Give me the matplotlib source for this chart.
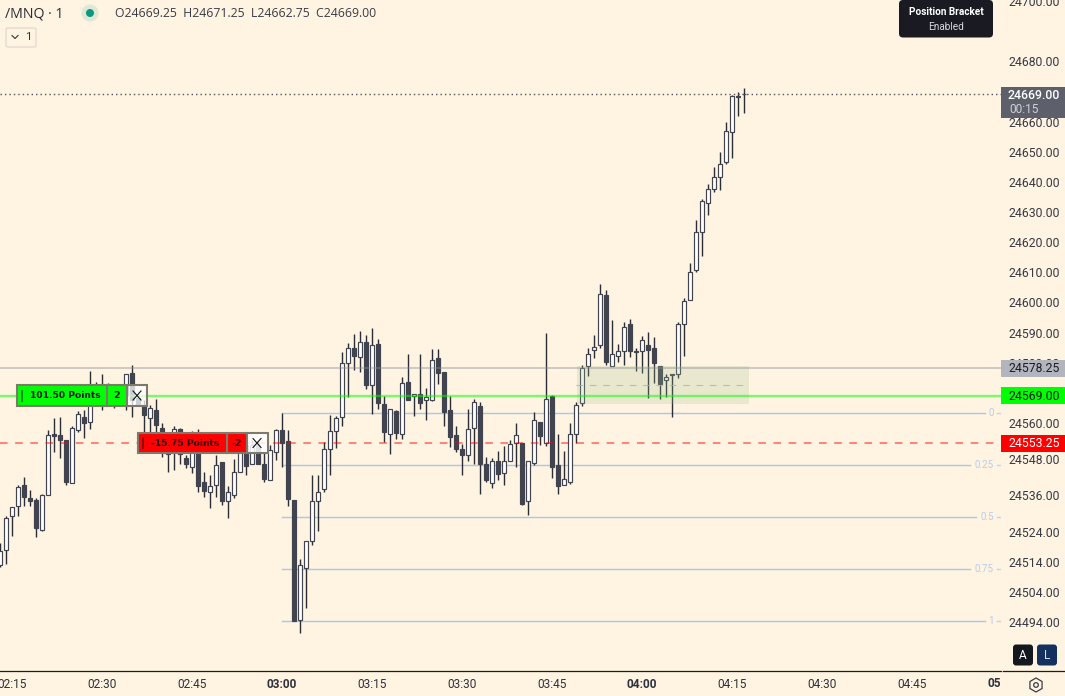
import matplotlib
matplotlib.use('Agg')
import matplotlib.pyplot as plt
from matplotlib.patches import Rectangle, FancyBboxPatch, Circle, RegularPolygon
import numpy as np

# one minute bars of /MNQ, first bar is 02:13
opens = [24513, 24517.75, 24529.25, 24532.5, 24539.5, 24535.25, 24534.5, 24524.5, 24536, 24556.25,
         24556, 24554.5, 24540, 24557.75, 24562, 24560.25, 24572.5, 24569.25, 24569.25, 24570.25,
         24569.25, 24569.25, 24576.5, 24568.25, 24566, 24561.75, 24564.25, 24558.25, 24549.75, 24552.75,
         24558, 24548.25, 24545.5, 24554.25, 24540.5, 24537.25, 24539.5, 24547, 24534.25, 24536.25,
         24543.75, 24552.75, 24546.5, 24552.75, 24546.5, 24541.25, 24550.5, 24557.75, 24554, 24534.5,
         24494.5, 24511.75, 24521, 24534.25, 24538, 24551.5, 24557.5, 24562, 24580, 24584.75,
         24582, 24587, 24572.5, 24586.25, 24566.25, 24556.5, 24564, 24556.25, 24573.75, 24569,
         24569.75, 24567.5, 24567.75, 24581.5, 24577, 24564.25, 24556, 24551.25, 24549.5, 24558.5,
         24565.5, 24546.5, 24540.25, 24547.5, 24543.5, 24547.5, 24553.5, 24553.25, 24534, 24546.75,
         24560.25, 24553.5, 24569, 24546, 24539.5, 24540.5, 24556.5, 24566.75, 24579, 24584.25,
         24585.75, 24602.5, 24579, 24582.25, 24584, 24592.75, 24583.75, 24584, 24586, 24585,
         24579, 24574.25, 24576, 24576.25, 24593, 24600.75, 24610.75, 24623.25, 24633, 24637.5,
         24641.75, 24646.5, 24656.5, 24668.25, 24669.25]
highs = [24520.25, 24529.25, 24532.25, 24539.5, 24542, 24537.75, 24535, 24536.5, 24557.75, 24561.75,
         24562, 24554.5, 24559, 24564, 24564.25, 24577.25, 24573.5, 24576.25, 24573.25, 24572.5,
         24572.5, 24576.25, 24579.25, 24569.25, 24567.5, 24566, 24568, 24560, 24556.5, 24559,
         24558.25, 24549.5, 24557.5, 24558, 24543.75, 24542.75, 24549.5, 24547, 24539, 24548,
         24555, 24556, 24554.25, 24554.25, 24550.5, 24552.75, 24558, 24563.25, 24557.75, 24534.5,
         24514.75, 24521, 24542.75, 24542.75, 24553.75, 24562.75, 24562.25, 24583.5, 24586.5, 24589.5,
         24590.5, 24589.25, 24591.5, 24588, 24569, 24564.5, 24564.25, 24575.25, 24583, 24569.5,
         24582.75, 24571.5, 24584.5, 24584.5, 24577, 24569, 24559, 24553, 24564.5, 24568,
         24567, 24548.75, 24548.25, 24550.75, 24552.5, 24554.5, 24560, 24553.25, 24547.5, 24563.5,
         24560.25, 24589.75, 24569.25, 24556.5, 24550.75, 24560, 24567, 24579.25, 24584.75, 24589.25,
         24606, 24604, 24594.25, 24586.25, 24593.5, 24594.5, 24585, 24589, 24590.25, 24588.5,
         24579, 24576.25, 24576.25, 24593.5, 24601.5, 24613, 24627.25, 24634.25, 24639.25, 24644.75,
         24650, 24659.75, 24668.75, 24669.75, 24671.25]
lows = [24512.25, 24513.25, 24522.5, 24529, 24532.5, 24532.5, 24522.25, 24524.25, 24536, 24550.5,
        24548.5, 24539.5, 24540, 24557, 24555, 24558, 24565.5, 24564.25, 24566, 24565,
        24566, 24564.25, 24562, 24566, 24555, 24556.75, 24556.75, 24548.75, 24543.75, 24544.25,
        24546.5, 24545, 24543.5, 24537, 24535.5, 24531.75, 24535.5, 24532.75, 24528.5, 24535.25,
        24543.75, 24542.75, 24546.5, 24546.5, 24540.5, 24541.25, 24547.75, 24545.5, 24532.5, 24494.25,
        24490.5, 24498.75, 24519.5, 24524.25, 24537.25, 24542.75, 24551.75, 24559, 24568.75, 24577.5,
        24577, 24571.25, 24563, 24564.75, 24553.75, 24549.75, 24554.75, 24554.75, 24567.75, 24562.25,
        24564.5, 24561, 24567.25, 24573, 24559, 24552, 24550.5, 24542.75, 24547.5, 24546.5,
        24536.5, 24540.5, 24538.5, 24541, 24539.5, 24547.5, 24545.25, 24532.75, 24529.5, 24546,
        24552.75, 24552.5, 24541.75, 24536.5, 24539.5, 24539.75, 24553.25, 24565.5, 24575.5, 24581.5,
        24585, 24579.25, 24579, 24580.25, 24579.25, 24582, 24577.25, 24576.75, 24568.25, 24573.25,
        24568, 24568.75, 24562, 24575, 24582.25, 24600.75, 24610.25, 24615.5, 24629, 24636.75,
        24637.25, 24646, 24647.75, 24661.75, 24662.75]
closes = [24517.5, 24528.5, 24532.25, 24538.75, 24535.5, 24534.25, 24525.25, 24536, 24556, 24555.75,
          24554.25, 24540.5, 24558.25, 24563, 24560, 24572.5, 24572, 24572.5, 24571.5, 24568.25,
          24571, 24576.25, 24567.5, 24566, 24562.75, 24565, 24559.5, 24551, 24555, 24558,
          24549.75, 24546.5, 24554.25, 24539.25, 24537.5, 24539.25, 24546, 24534.25, 24537.25, 24543.75,
          24551, 24545.75, 24552.75, 24546.5, 24541.5, 24551, 24557.75, 24553.5, 24534.75, 24494.25,
          24512.75, 24521, 24534, 24537.25, 24551.25, 24557.25, 24561.5, 24580, 24585, 24582.25,
          24587, 24572.75, 24586, 24566.75, 24557, 24564.5, 24556.75, 24573.25, 24567.75, 24569.5,
          24566.5, 24568.75, 24581, 24576.75, 24563.5, 24555.5, 24551.5, 24549.5, 24558, 24567,
          24546.5, 24541, 24547.25, 24543.25, 24547.25, 24553, 24556, 24533, 24547.5, 24561,
          24555.75, 24568, 24545.25, 24539.25, 24541.5, 24556.25, 24566, 24578.25, 24583, 24585.25,
          24602.75, 24580.25, 24583, 24583.75, 24592, 24584, 24583.5, 24587.5, 24584.25, 24580,
          24573, 24575.25, 24576.25, 24593, 24600.5, 24610.25, 24623.5, 24633.5, 24637.75, 24641.5,
          24645.75, 24656.75, 24668.5, 24668.5, 24669]

# 24670 and 24570 sit fully behind the price tags, so they are left out
price_ticks = [24700, 24680, 24660, 24650, 24640, 24630, 24620, 24610, 24600, 24590,
               24580, 24560, 24548, 24536, 24524, 24514, 24504, 24494]
time_ticks = [135, 150, 165, 180, 195, 210, 225, 240, 255, 270, 285]
time_labels = ['02:15', '02:30', '02:45', '03:00', '03:15', '03:30', '03:45', '04:00', '04:15', '04:30', '04:45']
fib_levels = [24563.25, 24546, 24528.75, 24511.5, 24494.25]
fib_labels = ['0', '0.25', '0.5', '0.75', '1']
last_price = 24669.00
entry_top = 24578.25
fill_price = 24569.00
stop_price = 24553.25

BG = '#fff3e2'
DARK = '#41444f'
WICK = '#2a2e39'
FIB = '#a6c8ee'
FONT = ['Roboto', 'DejaVu Sans']

plt.rcParams['font.family'] = FONT

fig = plt.figure(figsize=(10.65, 6.96), dpi=100, facecolor=BG)
ax = fig.add_axes([0, 26 / 696, 1001 / 1065, 670 / 696], facecolor=BG)

times = 133.05 + np.arange(len(opens))
o = np.array(opens)
c = np.array(closes)
up = c >= o

ax.set_xlim(133, 133 + 1001 / 6)
ax.set_ylim(24478.08, 24700.3)

# fib retracement, line stops short of its label
for lev, lab in zip(fib_levels, fib_labels):
    end = 970 if len(lab) > 3 else 976 if lab == '0.5' else 985
    ax.plot([180, 133 + end / 6], [lev, lev], color=FIB, lw=1.0, zorder=1)
    ax.plot([133 + 996.5 / 6, 133 + 1001 / 6], [lev, lev], color=FIB, lw=1.0, alpha=0.7, zorder=1)
    ax.text(133 + (984 if len(lab) > 3 else 987 if lab == '0.5' else 991) / 6, lev, lab, color='#b4cdea',
            fontsize=7, ha='center', va='center', zorder=1)

ax.vlines(times, lows, highs, color=WICK, lw=1.0, zorder=2)
ax.bar(times[up], (c - o)[up], bottom=o[up], width=0.68, color='white', edgecolor=DARK, lw=0.85, zorder=3)
ax.bar(times[~up], (c - o)[~up], bottom=o[~up], width=0.72, color=DARK, edgecolor=DARK, lw=0.85, zorder=3)

# bracket zone over the candles
ax.axhspan(24566.25, 24578.9, xmin=577 / 1001, xmax=749 / 1001, color='#9dc48f', alpha=0.22, lw=0, zorder=4)
ax.plot([133 + 576 / 6, 133 + 746 / 6], [24572.5, 24572.5], color='#8ec48d', lw=0.8, ls=(0, (6, 6)), alpha=0.8, zorder=4)

ax.axhline(entry_top, color='#8a8c96', lw=1.3, alpha=0.45, zorder=5)
ax.axhline(fill_price, color='#00ff00', lw=1.7, alpha=0.52, zorder=5)
ax.axhline(stop_price, color='#ff0000', lw=1.3, alpha=0.5, ls=(0, (4.2, 4.2)), zorder=5)
ax.axhline(last_price, color='#50535e', lw=1.0, ls=(0, (1, 2.2)), zorder=5)

ax.yaxis.tick_right()
ax.set_yticks(price_ticks)
ax.set_yticklabels(['%.2f' % p for p in price_ticks])
ax.tick_params(axis='y', length=0, pad=5.6, labelsize=8.8, labelcolor='#363a45')
ax.set_xticks(time_ticks)
ax.set_xticklabels(time_labels)
ax.tick_params(axis='x', length=0, pad=6, labelsize=8.6, labelcolor='#2f323c')
for lab in ax.get_xticklabels():
    if lab.get_text() in ('03:00', '04:00'):
        lab.set_fontweight('bold')
for s in ax.spines.values():
    s.set_visible(False)

# overlay in screen pixels for the platform widgets
ov = fig.add_axes([0, 0, 1, 1], facecolor='none')
ov.set_xlim(0, 1065)
ov.set_ylim(696, 0)
ov.axis('off')


def box(x0, y0, x1, y1, color, **kw):
    ov.add_patch(Rectangle((x0, y0), x1 - x0, y1 - y0, facecolor=color, **kw))


ov.plot([0, 1001], [670.5, 670.5], color='#1c1c1c', lw=0.9)
ov.plot([1003, 1065], [670.5, 670.5], color='#1c1c1c', lw=0.9)
ov.text(994, 683.5, '05', fontsize=8.6, fontweight='bold', color='#2f323c', ha='center', va='center')

# header
ov.text(5, 13.5, '/MNQ · 1', fontsize=10.2, color='#2b2b33', va='center', family=['Open Sans', 'DejaVu Sans'])
ov.add_patch(Circle((90, 13), 8.5, color='#dfe8d5', lw=0))
ov.add_patch(Circle((90, 13), 4, color='#089981', lw=0))
ov.text(115, 13.5, 'O24669.25  H24671.25  L24662.75  C24669.00', fontsize=8.85, color='#3a3d47', va='center',
        family=['Open Sans', 'DejaVu Sans'])
ov.add_patch(FancyBboxPatch((6, 28), 30, 19, boxstyle='round,pad=0,rounding_size=2', facecolor=BG, edgecolor='#d9d5cc', lw=0.8))
ov.plot([12, 15, 18], [35.5, 38.5, 35.5], color='#333', lw=0.8)
ov.text(28, 37.5, '1', fontsize=8.2, color='#333', ha='center', va='center')

# tooltip
ov.add_patch(FancyBboxPatch((899, 0), 94, 37.5, boxstyle='round,pad=0,rounding_size=4', facecolor='#1a1b22', edgecolor='none'))
ov.text(946, 12, 'Position Bracket', color='white', fontsize=7.2, fontweight='bold', ha='center', va='center')
ov.text(946, 27, 'Enabled', color='#d8d8dc', fontsize=7.2, ha='center', va='center')

# order labels
BORDER = '#7d796c'
mono = ['DejaVu Sans']
box(16.5, 385, 106.5, 406, '#00ff00', edgecolor=BORDER, linewidth=1.5, zorder=6)
box(106.5, 385, 127, 406, '#00ff00', edgecolor=BORDER, linewidth=1.5, zorder=6)
box(127, 385, 147, 406, (1, 1, 1, 0.75), edgecolor=BORDER, linewidth=1.5, zorder=6)
box(21, 390, 23, 402, '#0a8a0a', linewidth=0, zorder=7)
ov.text(65, 395.5, '101.50 Points', fontsize=6.6, fontweight='bold', family=mono, color='#0b1a0b', ha='center', va='center', zorder=7)
ov.text(117, 395.5, '2', fontsize=6.8, fontweight='bold', family=mono, color='#0b1a0b', ha='center', va='center', zorder=7)
ov.plot([133, 141], [391, 400], color='#111', lw=0.8, zorder=7)
ov.plot([133, 141], [400, 391], color='#111', lw=0.8, zorder=7)

box(138, 433, 226.5, 453, '#ff0000', edgecolor=BORDER, linewidth=1.5, zorder=6)
box(226.5, 433, 247, 453, '#ff0000', edgecolor=BORDER, linewidth=1.5, zorder=6)
box(247, 433, 267.5, 453, (1, 1, 1, 0.85), edgecolor=BORDER, linewidth=1.5, zorder=6)
box(142, 437, 144, 449, '#8f0a0a', linewidth=0, zorder=7)
ov.text(185, 443, '-15.75 Points', fontsize=6.6, fontweight='bold', family=mono, color='#2a0505', ha='center', va='center', zorder=7)
ov.text(236.5, 443, '-2', fontsize=6.8, fontweight='bold', family=mono, color='#2a0505', ha='center', va='center', zorder=7)
ov.plot([253, 261], [438.5, 447.5], color='#111', lw=0.8, zorder=7)
ov.plot([253, 261], [447.5, 438.5], color='#111', lw=0.8, zorder=7)

# price axis labels
box(1001, 87, 1065, 118, '#5d606b', linewidth=0, zorder=6)
ov.text(1034, 95.5, '%.2f' % last_price, color='white', fontsize=8.8, fontweight='medium', ha='center', va='center', zorder=7)
ov.text(1009, 109.5, '00:15', color='#cfd0d4', fontsize=8.6, ha='left', va='center', zorder=7)
box(1001, 360, 1065, 377, '#b2b5be', linewidth=0, zorder=6)
ov.text(1034, 368.5, '%.2f' % entry_top, color='#1c1c22', fontsize=8.8, ha='center', va='center', zorder=7)
box(1001, 387, 1065, 404, '#00ff00', linewidth=0, zorder=6)
ov.text(1034, 396, '%.2f' % fill_price, color='#0d1a0d', fontsize=8.8, ha='center', va='center', zorder=7)
box(1001, 435, 1065, 452, '#ff0000', linewidth=0, zorder=6)
ov.text(1034, 443.5, '%.2f' % stop_price, color='white', fontsize=8.8, ha='center', va='center', zorder=7)

# auto / log buttons and settings
ov.add_patch(FancyBboxPatch((1013, 644.5), 20, 21, boxstyle='round,pad=0,rounding_size=3', facecolor='#15171f', edgecolor='none'))
ov.text(1023, 655.5, 'A', color='white', fontsize=8.6, ha='center', va='center')
ov.add_patch(FancyBboxPatch((1037, 644.5), 20, 21, boxstyle='round,pad=0,rounding_size=3', facecolor='#14305f', edgecolor='none'))
ov.text(1047, 655.5, 'L', color='#cfe0f5', fontsize=8.6, ha='center', va='center')
ov.add_patch(RegularPolygon((1036, 685), 6, radius=7, facecolor='none', edgecolor='#3a3d47', lw=0.9))
ov.add_patch(Circle((1036, 685), 2.3, facecolor='none', edgecolor='#3a3d47', lw=0.9))

fig.savefig('out.png', dpi=100, facecolor=BG)
